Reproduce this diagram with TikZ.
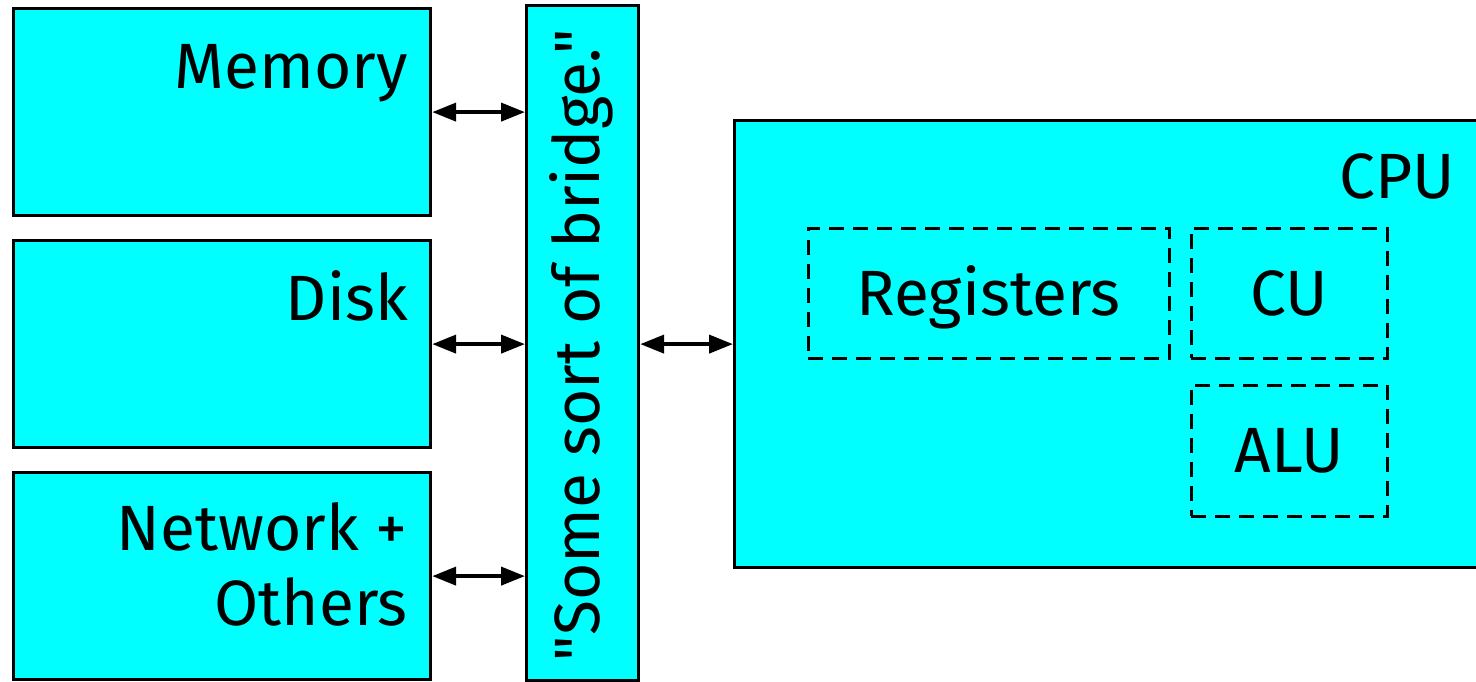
\documentclass[tikz,border=0pt]{standalone}
\usepackage{fontspec}
\setmainfont{Fira Sans}[Ligatures=TeXOff]
\usetikzlibrary{arrows.meta}
\definecolor{boxcyan}{HTML}{00FFFF}
\tikzset{
  box/.style={draw=black, fill=boxcyan, line width=3.2pt, anchor=north west, inner sep=0pt},
  part/.style={draw=black, line width=3pt, dash pattern=on 15pt off 9pt, inner sep=0pt,
    font=\fontsize{64}{76}\selectfont, text height=44pt, text depth=0pt},
  lbl/.style={font=\fontsize{64}{76}\selectfont, inner sep=0pt, align=right},
  link/.style={line width=4pt, {Triangle[length=24pt,width=18pt]}-{Triangle[length=24pt,width=18pt]}}
}
\begin{document}
\begin{tikzpicture}[x=1pt,y=-1pt]
\useasboundingbox (0,0) rectangle (1476,681);
% left boxes
\node[box, minimum width=417pt, minimum height=207pt] (mem) at (12,7) {};
\node[box, minimum width=417pt, minimum height=207pt] (disk) at (12,239) {};
\node[box, minimum width=417pt, minimum height=207pt] (net) at (12,471) {};
\node[lbl, anchor=base east] (memlbl) at (408,88) {Memory};
\node[lbl, anchor=base east] (disklbl) at (408,320) {Disk};
\node[lbl, anchor=base east] (netlbl) at (408,550) {Network +};
\node[lbl, anchor=base east] (othlbl) at (408,625) {Others};
% bridge
\node[box, minimum width=112pt, minimum height=675pt] (bridge) at (525,4) {};
\node[lbl, rotate=90] (bridgelbl) at (581,345) {"Some sort of bridge."};
% CPU
\node[box, minimum width=800pt, minimum height=447pt] (cpu) at (733,119) {};
\node[lbl, anchor=base east] (cpulbl) at (1455,198) {CPU};
\node[part, minimum width=361pt, minimum height=130pt] (reg) at (988.5,293) {Registers};
\node[part, minimum width=196pt, minimum height=130pt] (cu) at (1289,293) {CU};
\node[part, minimum width=196pt, minimum height=131pt] (alu) at (1289,450.5) {ALU};
% links
\draw[link] (mem.east) -- (mem.east -| bridge.west);
\draw[link] (disk.east) -- (disk.east -| bridge.west);
\draw[link] (net.east) -- (net.east -| bridge.west);
\draw[link] (bridge.east |- cpu.west) -- (cpu.west);
\end{tikzpicture}
\end{document}
